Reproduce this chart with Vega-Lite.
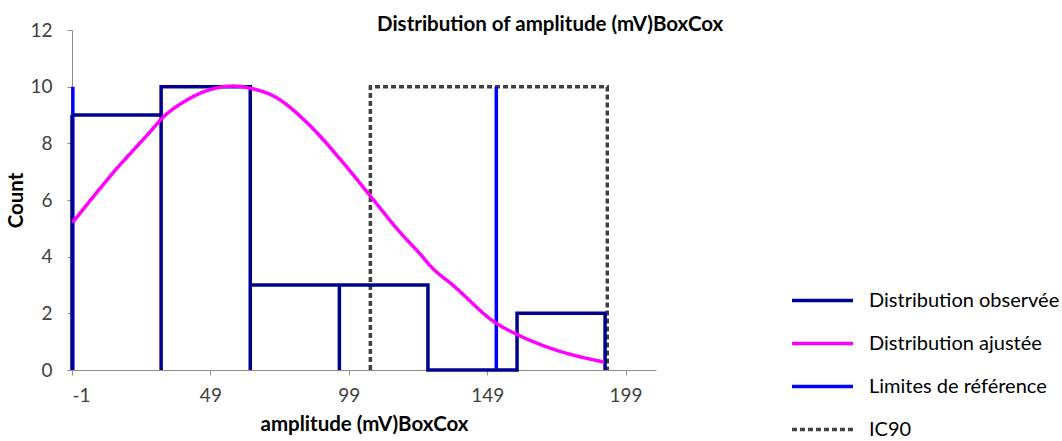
{
  "$schema": "https://vega.github.io/schema/vega-lite/v6.json",
  "width": 584,
  "height": 340,
  "autosize": {"type": "none"},
  "padding": {"left": 72, "top": 30, "right": 406, "bottom": 71},
  "background": "white",
  "config": {
    "view": {"stroke": null},
    "font": "Lato",
    "axis": {
      "domainColor": "#8c8c8c",
      "tickColor": "#8c8c8c",
      "tickSize": 5,
      "grid": false,
      "labelColor": "#404040",
      "labelFont": "Lato",
      "labelFontSize": 19,
      "titleFont": "Lato",
      "titleFontSize": 20.5,
      "titleFontWeight": "bold",
      "titleColor": "#000000"
    }
  },
  "title": {
    "text": "Distribution of amplitude (mV)BoxCox",
    "font": "Lato",
    "fontSize": 20.5,
    "fontWeight": "bold",
    "color": "#000000",
    "anchor": "start",
    "frame": "group",
    "dx": 305,
    "offset": -14
  },
  "datasets": {
    "hist": [
      {"series": "Distribution observée", "x": -1, "y": 0, "o": 1},
      {"series": "Distribution observée", "x": -1, "y": 9, "o": 2},
      {"series": "Distribution observée", "x": 31.2, "y": 9, "o": 3},
      {"series": "Distribution observée", "x": 31.2, "y": 0, "o": 4},
      {"series": "Distribution observée", "x": 31.2, "y": 10, "o": 5},
      {"series": "Distribution observée", "x": 63.4, "y": 10, "o": 6},
      {"series": "Distribution observée", "x": 63.4, "y": 0, "o": 7},
      {"series": "Distribution observée", "x": 63.4, "y": 3, "o": 8},
      {"series": "Distribution observée", "x": 95.6, "y": 3, "o": 9},
      {"series": "Distribution observée", "x": 95.6, "y": 0, "o": 10},
      {"series": "Distribution observée", "x": 95.6, "y": 3, "o": 11},
      {"series": "Distribution observée", "x": 127.6, "y": 3, "o": 12},
      {"series": "Distribution observée", "x": 127.6, "y": 0, "o": 13},
      {"series": "Distribution observée", "x": 159.8, "y": 0, "o": 14},
      {"series": "Distribution observée", "x": 159.8, "y": 2, "o": 15},
      {"series": "Distribution observée", "x": 191.6, "y": 2, "o": 16},
      {"series": "Distribution observée", "x": 191.6, "y": 0, "o": 17}
    ],
    "fit": [
      {"series": "Distribution ajustée", "x": -0.8, "y": 5.2},
      {"series": "Distribution ajustée", "x": 8.9, "y": 6.38},
      {"series": "Distribution ajustée", "x": 14.9, "y": 7.08},
      {"series": "Distribution ajustée", "x": 20.9, "y": 7.73},
      {"series": "Distribution ajustée", "x": 27.0, "y": 8.38},
      {"series": "Distribution ajustée", "x": 31.8, "y": 8.91},
      {"series": "Distribution ajustée", "x": 39.0, "y": 9.44},
      {"series": "Distribution ajustée", "x": 47.5, "y": 9.85},
      {"series": "Distribution ajustée", "x": 57.1, "y": 10.02},
      {"series": "Distribution ajustée", "x": 64.9, "y": 9.91},
      {"series": "Distribution ajustée", "x": 71.8, "y": 9.67},
      {"series": "Distribution ajustée", "x": 83.9, "y": 8.73},
      {"series": "Distribution ajustée", "x": 95.9, "y": 7.44},
      {"series": "Distribution ajustée", "x": 106.8, "y": 6.14},
      {"series": "Distribution ajustée", "x": 117.6, "y": 4.85},
      {"series": "Distribution ajustée", "x": 124.9, "y": 4.08},
      {"series": "Distribution ajustée", "x": 128.5, "y": 3.67},
      {"series": "Distribution ajustée", "x": 136.9, "y": 2.97},
      {"series": "Distribution ajustée", "x": 152.0, "y": 1.67},
      {"series": "Distribution ajustée", "x": 161.0, "y": 1.2},
      {"series": "Distribution ajustée", "x": 173.1, "y": 0.73},
      {"series": "Distribution ajustée", "x": 191.2, "y": 0.28}
    ],
    "ref": [
      {"series": "Limites de référence", "x": -0.7, "y": 0, "y2": 10},
      {"series": "Limites de référence", "x": 152.3, "y": 0, "y2": 10}
    ],
    "ic": [
      {"series": "IC90", "x": 106.8, "y": 0, "o": 1},
      {"series": "IC90", "x": 106.8, "y": 10, "o": 2},
      {"series": "IC90", "x": 192.4, "y": 10, "o": 3},
      {"series": "IC90", "x": 192.4, "y": 0, "o": 4}
    ]
  },
  "encoding": {
    "x": {
      "field": "x",
      "type": "quantitative",
      "scale": {"domain": [-1, 210], "nice": false, "zero": false},
      "axis": {"values": [-1, 49, 99, 149, 199], "labelExpr": "'' + datum.value", "title": "amplitude (mV)BoxCox", "labelPadding": 11, "titlePadding": 9}
    },
    "y": {
      "field": "y",
      "type": "quantitative",
      "scale": {"domain": [0, 12], "nice": false},
      "axis": {"values": [0, 2, 4, 6, 8, 10, 12], "title": "Count", "labelPadding": 15, "titlePadding": 3}
    },
    "color": {
      "field": "series",
      "type": "nominal",
      "scale": {
        "domain": ["Distribution observée", "Distribution ajustée", "Limites de référence", "IC90"],
        "range": ["#000090", "#FF00FF", "#0000FF", "#404040"]
      },
      "legend": {
        "orient": "none",
        "legendX": 718,
        "legendY": 238,
        "title": null,
        "symbolType": "stroke",
        "symbolSize": 3721,
        "labelFont": "Lato",
        "labelFontSize": 20,
        "labelColor": "#000000",
        "labelOffset": 14,
        "labelLimit": 0,
        "rowPadding": -19,
        "padding": 0
      }
    },
    "strokeDash": {
      "field": "series",
      "type": "nominal",
      "scale": {
        "domain": ["Distribution observée", "Distribution ajustée", "Limites de référence", "IC90"],
        "range": [[1, 0], [1, 0], [1, 0], [5, 3]]
      },
      "legend": {
        "orient": "none",
        "legendX": 718,
        "legendY": 238,
        "title": null,
        "symbolType": "stroke",
        "symbolSize": 3721,
        "labelFont": "Lato",
        "labelFontSize": 20,
        "labelColor": "#000000",
        "labelOffset": 14,
        "labelLimit": 0,
        "rowPadding": -19,
        "padding": 0
      }
    },
    "strokeWidth": {
      "field": "series",
      "type": "nominal",
      "scale": {
        "domain": ["Distribution observée", "Distribution ajustée", "Limites de référence", "IC90"],
        "range": [3.5, 3.5, 3.5, 1.3]
      },
      "legend": {
        "orient": "none",
        "legendX": 718,
        "legendY": 238,
        "title": null,
        "symbolType": "stroke",
        "symbolSize": 3721,
        "labelFont": "Lato",
        "labelFontSize": 20,
        "labelColor": "#000000",
        "labelOffset": 14,
        "labelLimit": 0,
        "rowPadding": -19,
        "padding": 0
      }
    }
  },
  "layer": [
    {
      "data": {"name": "ic"},
      "mark": {"type": "line"},
      "encoding": {"order": {"field": "o", "type": "quantitative"}}
    },
    {
      "data": {"name": "ref"},
      "mark": {"type": "rule"},
      "encoding": {"y2": {"field": "y2"}}
    },
    {
      "data": {"name": "hist"},
      "mark": {"type": "line"},
      "encoding": {"order": {"field": "o", "type": "quantitative"}}
    },
    {
      "data": {"name": "fit"},
      "mark": {"type": "line", "interpolate": "monotone"},
      "encoding": {}
    }
  ]
}
